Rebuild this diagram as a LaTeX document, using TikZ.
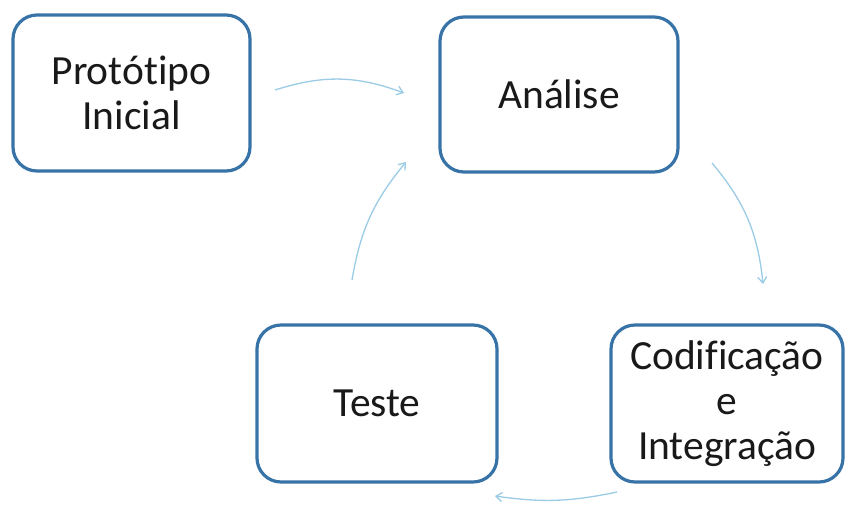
\documentclass[tikz,border=0pt]{standalone}
\usepackage{fontspec}
\setmainfont{Carlito}[Ligatures={NoCommon}]
\usetikzlibrary{arrows.meta}
\definecolor{boxline}{HTML}{3873A8}
\definecolor{flow}{HTML}{9ACCE6}
\begin{document}
\begin{tikzpicture}[x=1pt,y=-1pt,
  stage/.style={draw=boxline, line width=3.2pt, rounded corners=24pt, fill=white,
    align=center, font=\fontsize{41.5}{45}\selectfont, text=black!90, inner sep=0pt},
  cycle arrow/.style={draw=flow, line width=1.3pt,
    -{Straight Barb[length=6pt,width=9pt,line width=1.3pt]}}]
  \useasboundingbox[fill=white] (0,0) rectangle (846,504);

  % process stages
  \node[stage, minimum width=237pt, minimum height=156pt] (proto) at (131.5,93) {Protótipo\\Inicial};
  \node[stage, minimum width=238pt, minimum height=155pt] (ana) at (559,94.5) {Análise};
  \node[stage, minimum width=240pt, minimum height=157pt] (teste) at (377,403.5) {Teste};
  \node[stage, minimum width=232pt, minimum height=157pt] (cod) at (727,403.5) {Codificação\\e\\Integração};

  % arrow ends, kept clear of the boxes
  \coordinate (p1) at (275,90);  \coordinate (p2) at (404,93);
  \coordinate (q1) at (712,163); \coordinate (q2) at (763,284);
  \coordinate (r1) at (617,492); \coordinate (r2) at (495,496);
  \coordinate (s1) at (352,280); \coordinate (s2) at (406,162);

  % development cycle
  \draw[cycle arrow] (p1) to[bend left=19] (p2);
  \draw[cycle arrow] (q1) to[bend left=17] (q2);
  \draw[cycle arrow] (r1) to[bend left=10] (r2);
  \draw[cycle arrow] (s1) to[bend left=15] (s2);
\end{tikzpicture}
\end{document}
